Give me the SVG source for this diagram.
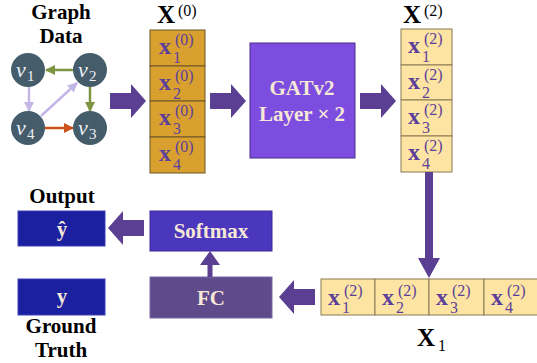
<svg xmlns="http://www.w3.org/2000/svg" width="537" height="363" viewBox="0 0 537 363">
<style>
.lbl{font-family:"Liberation Serif",serif;font-weight:bold;font-size:21px;fill:#000;text-anchor:middle}
.btxt{font-family:"Liberation Serif",serif;font-weight:bold;font-size:21px;fill:#f6e8d6;text-anchor:middle}
.gn{fill:#455d6b}
.vt{font-family:"Liberation Serif",serif;font-style:italic;font-size:22px;fill:#eef0f4}
.vs{font-family:"Liberation Serif",serif;font-size:15px;fill:#eef0f4}
.xv{font-family:"Liberation Serif",serif;font-weight:bold;font-size:24px;fill:#5b3f9b}
.xs{font-family:"Liberation Serif",serif;font-size:16px;fill:#5b3f9b}
.c0{fill:#d9a030;stroke:#6b5424;stroke-width:1}
.c2{fill:#fde4a2;stroke:#8a7a52;stroke-width:1}
.hx{font-family:"Liberation Serif",serif;font-weight:bold;font-size:25px;fill:#000}
.hs{font-family:"Liberation Serif",serif;font-size:16px;fill:#000}
.big{fill:#5b3f92}
.e{stroke-width:2.5;fill:none}
</style>
<defs>
<path id="bigArrow" d="M-36,-8 H-15 V-17 L0,0 L-15,17 V8 H-36 Z"/>
<marker id="mg" viewBox="0 0 10 10" refX="9" refY="5" markerWidth="4" markerHeight="4" orient="auto"><path d="M0,0 L10,5 L0,10 Z" fill="#7d9440"/></marker>
<marker id="ml" viewBox="0 0 10 10" refX="9" refY="5" markerWidth="4" markerHeight="4" orient="auto"><path d="M0,0 L10,5 L0,10 Z" fill="#c4b6e6"/></marker>
<marker id="mo" viewBox="0 0 10 10" refX="9" refY="5" markerWidth="4" markerHeight="4" orient="auto"><path d="M0,0 L10,5 L0,10 Z" fill="#c8541c"/></marker>
</defs>

<g id="graph-data">
<text class="lbl" x="61" y="19">Graph</text>
<text class="lbl" x="61" y="43">Data</text>
<g id="graph-edges">
<line class="e" x1="73" y1="70" x2="46" y2="70" stroke="#7d9440" marker-end="url(#mg)"/>
<line class="e" x1="29" y1="87" x2="29" y2="111" stroke="#c4b6e6" marker-end="url(#ml)"/>
<line class="e" x1="41" y1="116" x2="77" y2="83" stroke="#c4b6e6" marker-end="url(#ml)"/>
<line class="e" x1="90" y1="87" x2="90" y2="111" stroke="#7d9440" marker-end="url(#mg)"/>
<line class="e" x1="45" y1="128" x2="73" y2="128" stroke="#c8541c" marker-end="url(#mo)"/>
</g>
<g id="v1"><circle class="gn" cx="28" cy="70" r="17"/><text class="vt" x="16" y="77">v</text><text class="vs" x="27" y="81">1</text></g>
<g id="v2"><circle class="gn" cx="90" cy="70" r="17"/><text class="vt" x="78" y="77">v</text><text class="vs" x="89" y="81">2</text></g>
<g id="v4"><circle class="gn" cx="28" cy="128" r="17"/><text class="vt" x="16" y="135">v</text><text class="vs" x="27" y="139">4</text></g>
<g id="v3"><circle class="gn" cx="90" cy="128" r="17"/><text class="vt" x="78" y="135">v</text><text class="vs" x="89" y="139">3</text></g>
</g>

<g id="X0">
<text class="hx" x="157" y="23">X</text><text class="hs" x="178" y="16">(0)</text>
<rect class="c0" x="150" y="30" width="55" height="36"/>
<rect class="c0" x="150" y="66" width="55" height="35"/>
<rect class="c0" x="150" y="101" width="55" height="36"/>
<rect class="c0" x="150" y="137" width="55" height="36"/>
<text class="xv" x="159" y="54">x</text><text class="xs" x="173" y="63">1</text><text class="xs" x="175" y="45">(0)</text>
<text class="xv" x="159" y="90">x</text><text class="xs" x="173" y="99">2</text><text class="xs" x="175" y="81">(0)</text>
<text class="xv" x="159" y="125">x</text><text class="xs" x="173" y="134">3</text><text class="xs" x="175" y="116">(0)</text>
<text class="xv" x="159" y="161">x</text><text class="xs" x="173" y="170">4</text><text class="xs" x="175" y="152">(0)</text>
</g>

<g id="gatv2">
<rect x="250" y="43" width="105" height="115" fill="#7c4ddf" stroke="#4b2d8a" stroke-width="1"/>
<text class="btxt" x="302" y="95">GATv2</text>
<text class="btxt" x="302" y="121">Layer × 2</text>
</g>

<g id="X2">
<text class="hx" x="403" y="23">X</text><text class="hs" x="424" y="16">(2)</text>
<rect class="c2" x="401" y="29" width="51" height="36"/>
<rect class="c2" x="401" y="65" width="51" height="35"/>
<rect class="c2" x="401" y="100" width="51" height="36"/>
<rect class="c2" x="401" y="136" width="51" height="36"/>
<text class="xv" x="408" y="53">x</text><text class="xs" x="422" y="62">1</text><text class="xs" x="424" y="44">(2)</text>
<text class="xv" x="408" y="89">x</text><text class="xs" x="422" y="98">2</text><text class="xs" x="424" y="80">(2)</text>
<text class="xv" x="408" y="124">x</text><text class="xs" x="422" y="133">3</text><text class="xs" x="424" y="115">(2)</text>
<text class="xv" x="408" y="160">x</text><text class="xs" x="422" y="169">4</text><text class="xs" x="424" y="151">(2)</text>
</g>

<g id="X1">
<rect class="c2" x="321" y="279" width="54" height="36"/>
<rect class="c2" x="375" y="279" width="54" height="36"/>
<rect class="c2" x="429" y="279" width="55" height="36"/>
<rect class="c2" x="484" y="279" width="55" height="36"/>
<text class="xv" x="328" y="305">x</text><text class="xs" x="342" y="313">1</text><text class="xs" x="344" y="296">(2)</text>
<text class="xv" x="382" y="305">x</text><text class="xs" x="396" y="313">2</text><text class="xs" x="398" y="296">(2)</text>
<text class="xv" x="436" y="305">x</text><text class="xs" x="450" y="313">3</text><text class="xs" x="452" y="296">(2)</text>
<text class="xv" x="491" y="305">x</text><text class="xs" x="505" y="313">4</text><text class="xs" x="507" y="296">(2)</text>
<text class="hx" x="417" y="346">X</text><text class="hs" x="438" y="351">1</text>
</g>

<g id="fc">
<rect x="150" y="277" width="122" height="41" fill="#5f4b8b" stroke="#7a68a8" stroke-width="1"/>
<text class="btxt" x="211" y="305">FC</text>
</g>

<g id="softmax">
<rect x="150" y="211" width="122" height="40" fill="#4b37be" stroke="#3a2a96" stroke-width="1"/>
<text class="btxt" x="211" y="238">Softmax</text>
</g>

<g id="yhat">
<text class="lbl" x="62" y="203">Output</text>
<rect x="18" y="211" width="87" height="35" fill="#1b20a0" stroke="#3b40b8" stroke-width="1"/>
<text class="btxt" x="62" y="236">ŷ</text>
</g>

<g id="ytrue">
<rect x="18" y="279" width="87" height="36" fill="#1b20a0" stroke="#3b40b8" stroke-width="1"/>
<text class="btxt" x="62" y="303">y</text>
<text class="lbl" x="61" y="333">Ground</text>
<text class="lbl" x="61" y="357">Truth</text>
</g>

<g id="connectors">
<use href="#bigArrow" class="big" transform="translate(146,101)"/>
<use href="#bigArrow" class="big" transform="translate(246,101)"/>
<use href="#bigArrow" class="big" transform="translate(396,101)"/>
<use href="#bigArrow" class="big" transform="translate(279,297) rotate(180)"/>
<use href="#bigArrow" class="big" transform="translate(108,228) rotate(180)"/>
<path class="big" d="M425,172 H433 V258 H440 L429,278 L418,258 H425 Z"/>
<path class="big" d="M207.5,277 V265 H200 L210,251 L220,265 H212.5 V277 Z"/>
</g>
</svg>
